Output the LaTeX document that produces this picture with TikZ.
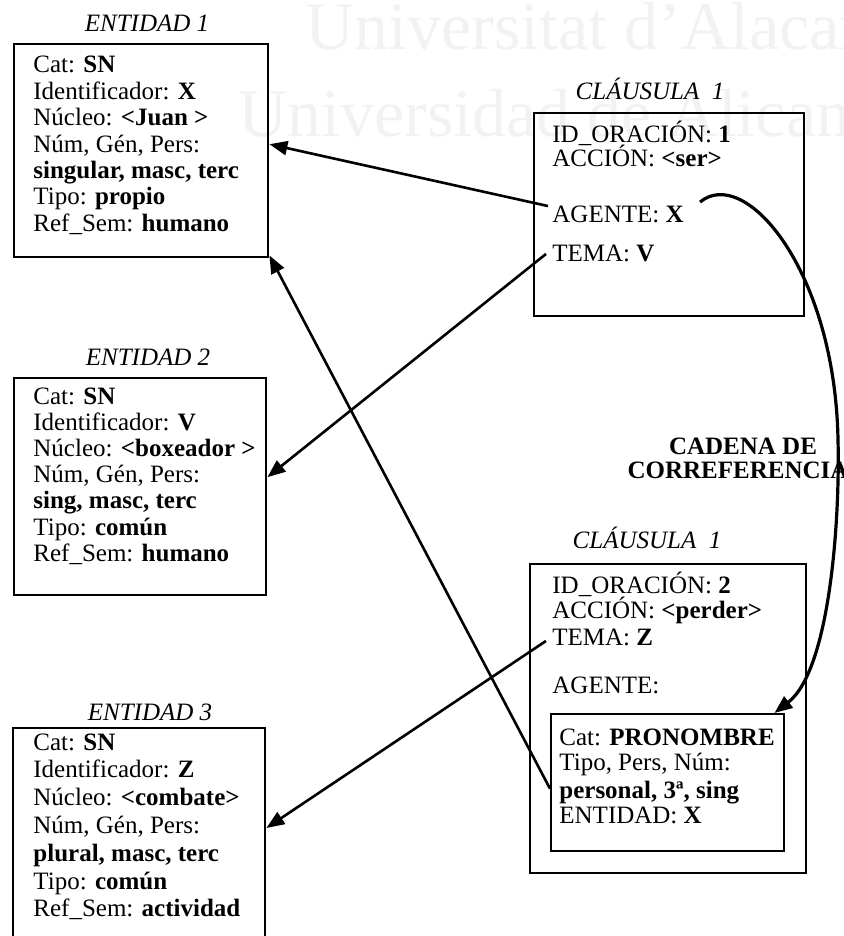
\documentclass[tikz,border=0pt]{standalone}
\usepackage{fontspec}
\setmainfont{Liberation Serif}
\usetikzlibrary{arrows.meta}
\begin{document}
\begin{tikzpicture}[x=0.5pt,y=-0.5pt,
  frame/.style={draw, line width=1.2pt, inner sep=0pt, anchor=north west},
  fld/.style={anchor=base west, inner sep=0pt, font=\fontsize{12.5}{13}\selectfont},
  ttl/.style={anchor=base, inner sep=0pt, font=\fontsize{12.5}{13}\selectfont\itshape},
  chain/.style={anchor=base, inner sep=0pt, font=\fontsize{12.5}{13}\selectfont\bfseries},
  link/.style={line width=1.3pt, -{Triangle[length=9pt,width=7pt]}},
  coref/.style={line width=1.6pt, -{Triangle[length=9pt,width=7pt]}},
  wm/.style={anchor=base west, inner sep=0pt, text=black!5, font=\fontsize{34}{34}\selectfont},
]
\useasboundingbox (0,0) rectangle (843,936);
\clip (0,0) rectangle (843,936);

% faint background lettering
\node[wm] (wm1) at (305,50) {Universitat d’Alacant};
\node[wm] (wm2) at (238,137) {Universidad de Alicante};

% ---------- entities ----------
\node[ttl] (t1) at (147,32) {ENTIDAD 1};
\node[frame, minimum width=127pt, minimum height=106.5pt] (ent1) at (13,43) {};
\foreach \t [count=\i] in {{Cat: \textbf{SN}}, {Identificador: \textbf{X}},
    {Núcleo: \textbf{<Juan >}}, {Núm, Gén, Pers:}, {\textbf{singular, masc, terc}},
    {Tipo: \textbf{propio}}, {Ref\_Sem: \textbf{humano}}}
  \node[fld] (e1l\i) at (33,{73+(\i-1)*26.4}) {\t};

\node[ttl] (t2) at (148,365) {ENTIDAD 2};
\node[frame, minimum width=126pt, minimum height=108.5pt] (ent2) at (13,377) {};
\foreach \t [count=\i] in {{Cat: \textbf{SN}}, {Identificador: \textbf{V}},
    {Núcleo: \textbf{<boxeador >}}, {Núm, Gén, Pers:}, {\textbf{sing, masc, terc}},
    {Tipo: \textbf{común}}, {Ref\_Sem: \textbf{humano}}}
  \node[fld] (e2l\i) at (33,{404+(\i-1)*26.2}) {\t};

\node[ttl] (t3) at (150,720) {ENTIDAD 3};
\node[frame, minimum width=126pt, minimum height=115pt] (ent3) at (12,727) {};
\foreach \t [count=\i] in {{Cat: \textbf{SN}}, {Identificador: \textbf{Z}},
    {Núcleo: \textbf{<combate>}}, {Núm, Gén, Pers:}, {\textbf{plural, masc, terc}},
    {Tipo: \textbf{común}}, {Ref\_Sem: \textbf{actividad}}}
  \node[fld] (e3l\i) at (33,{750+(\i-1)*27.8}) {\t};

% ---------- first clause ----------
\node[ttl] (t4) at (650,100) {CLÁUSULA\ \ 1};
\node[frame, minimum width=135pt, minimum height=101.5pt] (cl1) at (533,112) {};
\node[fld] (id1)  at (552,143) {ID\_ORACIÓN: \textbf{1}};
\node[fld] (ac1)  at (552,167) {ACCIÓN: \textbf{<ser>}};
\node[fld] (ag1)  at (552,223) {AGENTE: \textbf{X}};
\node[fld] (tmV)  at (552,262) {TEMA: \textbf{V}};

% ---------- second clause ----------
\node[ttl] (t5) at (647,548) {CLÁUSULA\ \ 1};
\node[frame, minimum width=138pt, minimum height=154.5pt] (cl2) at (529,563) {};
\node[fld] (id2)  at (552,593) {ID\_ORACIÓN: \textbf{2}};
\node[fld] (ac2)  at (552,618) {ACCIÓN: \textbf{<perder>}};
\node[fld] (tmZ)  at (552,645) {TEMA: \textbf{Z}};
\node[fld] (ag2)  at (552,693) {AGENTE:};
\node[frame, minimum width=116.5pt, minimum height=68.5pt] (pron) at (550,713) {};
\node[fld] (p1) at (559,745) {Cat: \textbf{PRONOMBRE}};
\node[fld] (p2) at (559,770) {Tipo, Pers, Núm:};
\node[fld] (p3) at (559,798) {\textbf{personal, 3ª, sing}};
\node[fld] (p4) at (559,823) {ENTIDAD: \textbf{X}};

% ---------- chain label ----------
\node[chain] (ch1) at (743,454) {CADENA DE};
\node[chain] (ch2) at (738,478) {CORREFERENCIA};

% ---------- links ----------
\draw[link] ([xshift=-2pt]ag1.north west) -- ([yshift=3.25pt]ent1.east);
\draw[link] ([xshift=-3pt]tmV.west) -- ([yshift=4.75pt]ent2.east);
\draw[link] ([yshift=-3pt]pron.west) -- ([yshift=1.5pt]ent1.south east);
\draw[link] ([xshift=-3pt,yshift=-2pt]tmZ.west) -- ([yshift=-50.5pt]ent3.north east);

% coreference chain from the agent of the first clause to the pronoun
\draw[coref] ([xshift=8pt,yshift=2pt]ag1.north east)
  .. controls (745,165) and (835,270) .. (838,440)
  .. controls (840,520) and (830,670) .. ([xshift=-5.5pt]pron.north east);
\end{tikzpicture}
\end{document}
